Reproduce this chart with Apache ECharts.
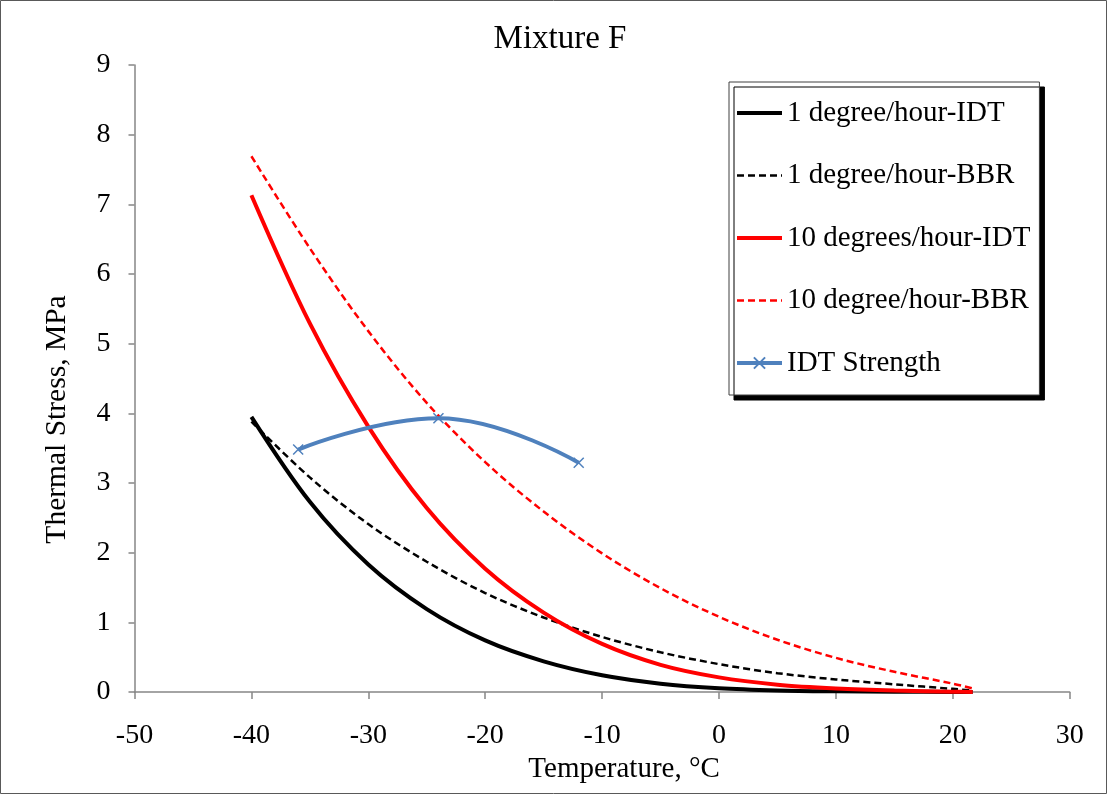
<!DOCTYPE html>
<html>
<head>
<meta charset="utf-8">
<script src="https://cdn.jsdelivr.net/npm/echarts@6/dist/echarts.min.js"></script>
<style>
html,body{margin:0;padding:0;background:#fff;}
#chart{width:1107px;height:794px;}
</style>
</head>
<body>
<div id="chart"></div>
<script>
// ---- data ----
const temps = [-40, -35, -30, -25, -20, -15, -10, -5, 0, 5, 10, 15, 20, 21.7];
const idt1deg  = [3.95, 2.73, 1.83, 1.19, 0.74, 0.44, 0.24, 0.12, 0.054, 0.023, 0.01, 0.004, 0.0015, 0];
const bbr1deg  = [3.88, 3.08, 2.41, 1.87, 1.42, 1.07, 0.79, 0.57, 0.40, 0.27, 0.18, 0.11, 0.045, 0.02];
const idt10deg = [7.13, 5.29, 3.81, 2.64, 1.77, 1.14, 0.69, 0.39, 0.21, 0.105, 0.05, 0.02, 0.005, 0];
const bbr10deg = [7.69, 6.37, 5.18, 4.15, 3.30, 2.59, 1.99, 1.49, 1.08, 0.75, 0.49, 0.29, 0.12, 0.05];
const strengthTemps = [-36, -24, -12];
const strengthVals  = [3.48, 3.93, 3.29];
const seriesNames = ['1 degree/hour-IDT', '1 degree/hour-BBR', '10 degrees/hour-IDT', '10 degree/hour-BBR', 'IDT Strength'];
const titleText = 'Mixture F';
const xName = 'Temperature, °C';
const yName = 'Thermal Stress, MPa';

const pair = (xs, ys) => xs.map((x, i) => [x, ys[i]]);
const serif = 'Liberation Serif, Times New Roman, serif';
const SMOOTH = 0.33;

const chart = echarts.init(document.getElementById('chart'), null, {renderer: 'canvas'});
chart.setOption({
  animation: false,
  backgroundColor: '#fff',
  title: {
    text: titleText, left: 555, top: 18, textAlign: 'center',
    textStyle: {fontFamily: serif, fontSize: 33, fontWeight: 'normal', color: '#000'}
  },
  grid: {left: 134.5, right: 37.3, top: 65, bottom: 102, containLabel: false},
  xAxis: {
    type: 'value', min: -50, max: 30, interval: 10,
    name: xName, nameLocation: 'middle', nameGap: 57,
    nameTextStyle: {fontFamily: serif, fontSize: 29, color: '#000', padding: [0, 0, 0, 44]},
    axisLine: {show: true, onZero: false, lineStyle: {color: '#868686', width: 1.5}},
    axisTick: {show: true, length: 7, lineStyle: {color: '#868686', width: 1.5}},
    axisLabel: {fontFamily: serif, fontSize: 28, color: '#000', margin: 30},
    splitLine: {show: false}
  },
  yAxis: {
    type: 'value', min: 0, max: 9, interval: 1,
    name: yName, nameLocation: 'middle', nameGap: 62,
    nameTextStyle: {fontFamily: serif, fontSize: 29.5, color: '#000', padding: [0, 82, 0, 0]},
    axisLine: {show: true, onZero: false, lineStyle: {color: '#868686', width: 1.5}},
    axisTick: {show: true, length: 6, lineStyle: {color: '#868686', width: 1.5}},
    axisLabel: {fontFamily: serif, fontSize: 28, color: '#000', margin: 24},
    splitLine: {show: false}
  },
  legend: {
    orient: 'vertical', left: 729, top: 82,
    padding: [16, 9, 17, 6],
    itemWidth: 45, itemHeight: 14, itemGap: 32.5,
    backgroundColor: '#fff', borderColor: '#404040', borderWidth: 1,
    shadowColor: '#000', shadowBlur: 0, shadowOffsetX: 5, shadowOffsetY: 5,
    textStyle: {fontFamily: serif, fontSize: 29, color: '#000', lineHeight: 30},
    data: [
      {name: seriesNames[0], itemStyle: {opacity: 0}, lineStyle: {width: 4}},
      {name: seriesNames[1], itemStyle: {opacity: 0}, lineStyle: {width: 2.5}},
      {name: seriesNames[2], itemStyle: {opacity: 0}, lineStyle: {width: 4}},
      {name: seriesNames[3], itemStyle: {opacity: 0}, lineStyle: {width: 2.5}},
      {name: seriesNames[4], lineStyle: {width: 4}}
    ]
  },
  graphic: [{
    type: 'rect', z: -10, silent: true,
    shape: {x: 0.5, y: 0.5, width: 1106, height: 793},
    style: {fill: 'none', stroke: '#595959', lineWidth: 1}
  }],
  series: [
    {name: seriesNames[0], type: 'line', smooth: SMOOTH, symbol: 'none',
     data: pair(temps, idt1deg), lineStyle: {color: '#000', width: 4}, itemStyle: {color: '#000'}},
    {name: seriesNames[1], type: 'line', smooth: SMOOTH, symbol: 'none',
     data: pair(temps, bbr1deg), lineStyle: {color: '#000', width: 2.5, type: [7, 4]}, itemStyle: {color: '#000'}},
    {name: seriesNames[2], type: 'line', smooth: SMOOTH, symbol: 'none',
     data: pair(temps, idt10deg), lineStyle: {color: '#FF0000', width: 4}, itemStyle: {color: '#FF0000'}},
    {name: seriesNames[3], type: 'line', smooth: SMOOTH, symbol: 'none',
     data: pair(temps, bbr10deg), lineStyle: {color: '#FF0000', width: 2.5, type: [7, 4]}, itemStyle: {color: '#FF0000'}},
    {name: seriesNames[4], type: 'line', smooth: 0.45,
     symbol: 'path://M0,0L10,10M10,0L0,10', symbolSize: 10,
     data: pair(strengthTemps, strengthVals),
     lineStyle: {color: '#4F81BD', width: 4},
     itemStyle: {color: 'rgba(0,0,0,0)', borderColor: '#4F81BD', borderWidth: 1.5}}
  ]
});
</script>
</body>
</html>
